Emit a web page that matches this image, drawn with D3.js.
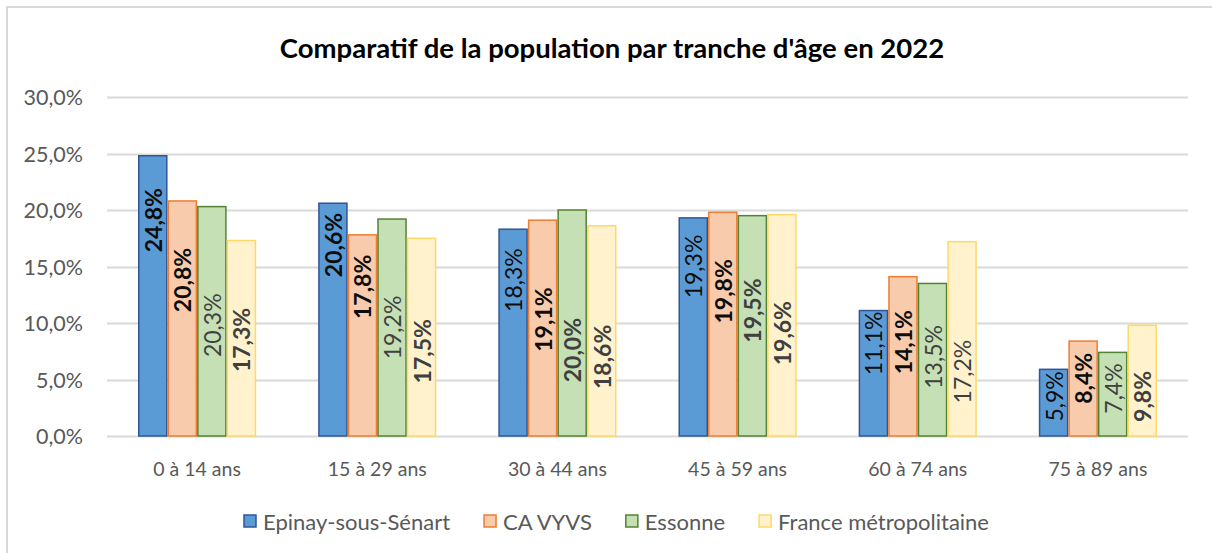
<!DOCTYPE html>
<html>
<head>
<meta charset="utf-8">
<script src="https://cdn.jsdelivr.net/npm/d3@7"></script>
<style>
  html, body { margin: 0; padding: 0; background: #fff; }
  svg { display: block; font-family: Lato, "Open Sans", sans-serif; }
</style>
</head>
<body>
<svg id="chart" width="1212" height="553"></svg>
<script>
const title = "Comparatif de la population par tranche d'âge en 2022";
const categories = ["0 à 14 ans", "15 à 29 ans", "30 à 44 ans", "45 à 59 ans", "60 à 74 ans", "75 à 89 ans"];
const seriesNames = ["Epinay-sous-Sénart", "CA VYVS", "Essonne", "France métropolitaine"];
const epinay = [24.8, 20.6, 18.3, 19.3, 11.1, 5.9];
const cavyvs = [20.8, 17.8, 19.1, 19.8, 14.1, 8.4];
const essonne = [20.3, 19.2, 20.0, 19.5, 13.5, 7.4];
const france = [17.3, 17.5, 18.6, 19.6, 17.2, 9.8];
// label centre positions (in % units)
const epinayLabelAt = [19.1, 16.9, 13.8, 15.0, 8.2, 3.5];
const cavyvsLabelAt = [13.8, 13.2, 10.3, 12.8, 8.3, 5.1];
const essonneLabelAt = [9.8, 9.6, 7.6, 11.1, 7.0, 4.2];
const franceLabelAt = [8.5, 7.5, 7.0, 9.1, 5.7, 3.5];
// bold flags of the labels
const epinayBold = [1, 1, 0, 0, 0, 0];
const cavyvsBold = [1, 1, 1, 1, 1, 1];
const essonneBold = [0, 0, 1, 1, 0, 0];
const franceBold = [1, 1, 1, 1, 0, 1];
const yTicks = [0, 5, 10, 15, 20, 25, 30];

const values = [epinay, cavyvs, essonne, france];
const labelAt = [epinayLabelAt, cavyvsLabelAt, essonneLabelAt, franceLabelAt];
const bold = [epinayBold, cavyvsBold, essonneBold, franceBold];
const fills = ["#5B9BD5", "#F8CBAD", "#C5E0B4", "#FFF2CC"];
const strokes = ["#2F5597", "#ED7D31", "#548235", "#FFD966"];
const labelColors = ["#0d0d0d", "#0d0d0d", "#404040", "#404040"];

const svg = d3.select("#chart");

// outer frame
svg.append("rect").attr("x", 7).attr("y", 7).attr("width", 1220).attr("height", 560)
  .attr("fill", "none").attr("stroke", "#d9d9d9").attr("stroke-width", 2);

const plot = { left: 107, right: 1188, top: 97, bottom: 436 };

svg.append("text").attr("x", 612).attr("y", 47)
  .attr("text-anchor", "middle").attr("dominant-baseline", "central")
  .attr("font-size", 27.5).attr("font-weight", "bold").attr("fill", "#000")
  .text(title);

const y = d3.scaleLinear().domain([0, 30]).range([plot.bottom, plot.top]);
const x0 = d3.scaleBand().domain(categories).range([plot.left, plot.right])
  .paddingInner(0.344).paddingOuter(0.172);
const x1 = d3.scaleBand().domain(d3.range(seriesNames.length)).range([0, x0.bandwidth()]);

// gridlines
svg.append("g").selectAll("line").data(yTicks).join("line")
  .attr("x1", plot.left).attr("x2", plot.right)
  .attr("y1", d => Math.round(y(d)) + 0.5).attr("y2", d => Math.round(y(d)) + 0.5)
  .attr("stroke", "#d9d9d9").attr("stroke-width", 2);

// y axis labels
const fmt = d => d.toFixed(1).replace(".", ",") + "%";
svg.append("g").selectAll("text").data(yTicks).join("text")
  .attr("x", 83).attr("y", d => y(d))
  .attr("text-anchor", "end").attr("dominant-baseline", "central")
  .attr("font-size", 21.5).attr("fill", "#595959")
  .text(fmt);

// bars
const groups = svg.append("g").selectAll("g").data(categories).join("g")
  .attr("transform", c => `translate(${x0(c)},0)`);

seriesNames.forEach((s, si) => {
  groups.append("rect")
    .attr("x", (c, ci) => x1(si) + 0.75)
    .attr("y", (c, ci) => y(values[si][ci]))
    .attr("width", x1.bandwidth() - 1.5)
    .attr("height", (c, ci) => y(0) - y(values[si][ci]))
    .attr("fill", fills[si]).attr("stroke", strokes[si]).attr("stroke-width", 1.5);
});

seriesNames.forEach((s, si) => {
  groups.append("text")
    .attr("transform", (c, ci) => `translate(${x1(si) + x1.bandwidth() / 2},${y(labelAt[si][ci])}) rotate(-90)`)
    .attr("text-anchor", "middle").attr("dominant-baseline", "central")
    .attr("font-size", 23)
    .attr("font-weight", (c, ci) => bold[si][ci] ? "bold" : "normal")
    .attr("fill", labelColors[si])
    .text((c, ci) => fmt(values[si][ci]));
});

// category labels
svg.append("g").selectAll("text").data(categories).join("text")
  .attr("x", c => x0(c) + x0.bandwidth() / 2).attr("y", 468)
  .attr("text-anchor", "middle").attr("dominant-baseline", "central")
  .attr("font-size", 19.5).attr("fill", "#595959")
  .text(c => c);

// legend
const legend = svg.append("g");
let lx = 0;
seriesNames.forEach((s, si) => {
  const g = legend.append("g");
  g.append("rect").attr("x", 0).attr("y", -6).attr("width", 12).attr("height", 12)
    .attr("fill", fills[si]).attr("stroke", strokes[si]).attr("stroke-width", 1.5);
  const t = g.append("text").attr("x", 19).attr("y", 0).attr("dominant-baseline", "central")
    .attr("font-size", 22).attr("fill", "#595959").text(s);
  const w = t.node().getComputedTextLength();
  g.attr("transform", `translate(${lx},0)`);
  lx += 19 + w + 34;
});
const totalW = lx - 34;
legend.attr("transform", `translate(${616.5 - totalW / 2},521)`);
</script>
</body>
</html>
